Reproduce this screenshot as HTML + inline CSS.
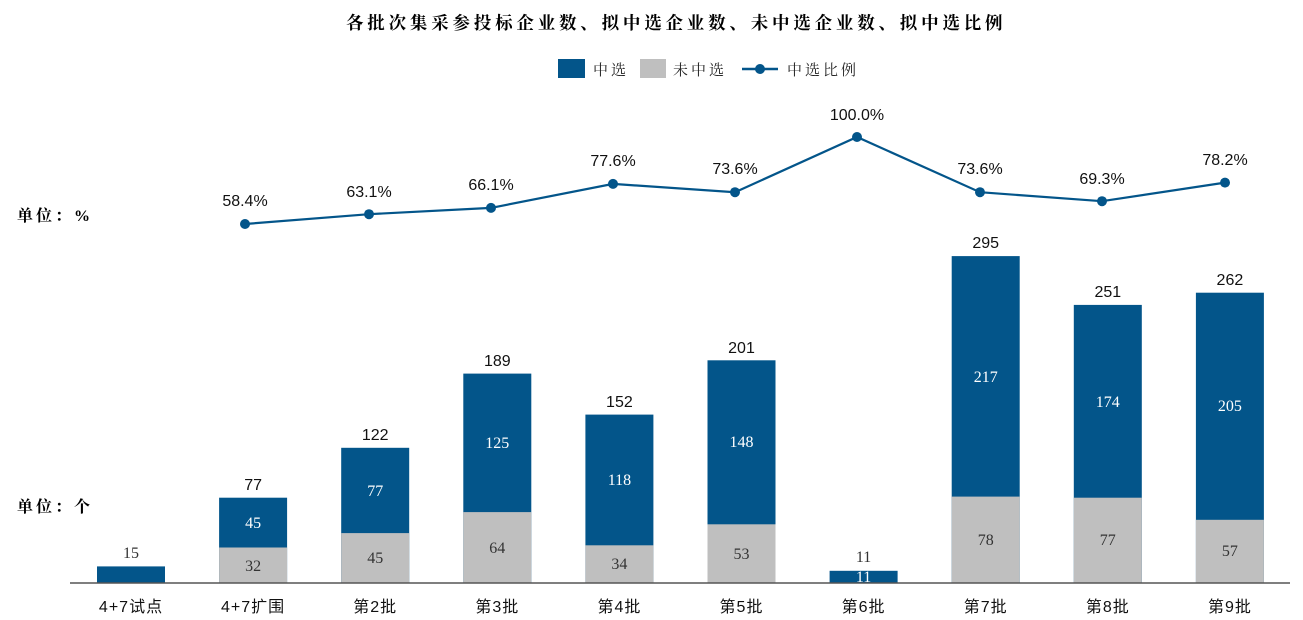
<!DOCTYPE html>
<html><head><meta charset="utf-8"><style>
html,body{margin:0;padding:0;background:#fff;}
svg{display:block;}
.t{font-family:"Liberation Serif","Noto Serif CJK SC",serif;}
.s{font-family:"Liberation Sans","Noto Sans CJK SC",sans-serif;}
</style></head><body>
<svg width="1303" height="620" viewBox="0 0 1303 620" xmlns="http://www.w3.org/2000/svg">
<text x="346" y="29" class="t" font-size="17.5" font-weight="bold" letter-spacing="3.8" fill="#000">各批次集采参投标企业数、拟中选企业数、未中选企业数、拟中选比例</text>
<rect x="558" y="59" width="27" height="19" fill="#03558A"/>
<text x="593" y="75" class="t" font-size="15" letter-spacing="3" fill="#222">中选</text>
<rect x="640" y="59" width="26" height="19" fill="#BFBFBF"/>
<text x="673" y="75" class="t" font-size="15" letter-spacing="3" fill="#222">未中选</text>
<line x1="742" y1="69" x2="778" y2="69" stroke="#03558A" stroke-width="2.5"/>
<circle cx="760" cy="69" r="5" fill="#03558A"/>
<text x="787" y="75" class="t" font-size="15" letter-spacing="3" fill="#222">中选比例</text>
<text x="17" y="221" class="t" font-size="16" font-weight="bold" letter-spacing="3" fill="#000">单位：%</text>
<text x="17" y="512" class="t" font-size="16" font-weight="bold" letter-spacing="3" fill="#000">单位：个</text>
<g fill="#03558A">
<rect x="97" y="566.4" width="68" height="16.6"/>
<rect x="219.1" y="497.7" width="68" height="85.3"/>
<rect x="341.2" y="447.8" width="68" height="135.2"/>
<rect x="463.3" y="373.6" width="68" height="209.4"/>
<rect x="585.4" y="414.6" width="68" height="168.4"/>
<rect x="707.5" y="360.3" width="68" height="222.7"/>
<rect x="829.6" y="570.8" width="68" height="12.2"/>
<rect x="951.7" y="256.1" width="68" height="326.9"/>
<rect x="1073.8" y="304.9" width="68" height="278.1"/>
<rect x="1195.9" y="292.7" width="68" height="290.3"/>
</g>
<g fill="#BFBFBF">
<rect x="219.1" y="547.5" width="68" height="35.5"/>
<rect x="341.2" y="533.1" width="68" height="49.9"/>
<rect x="463.3" y="512.1" width="68" height="70.9"/>
<rect x="585.4" y="545.3" width="68" height="37.7"/>
<rect x="707.5" y="524.3" width="68" height="58.7"/>
<rect x="951.7" y="496.6" width="68" height="86.4"/>
<rect x="1073.8" y="497.7" width="68" height="85.3"/>
<rect x="1195.9" y="519.8" width="68" height="63.2"/>
</g>
<line x1="70" y1="583" x2="1290" y2="583" stroke="#555" stroke-width="1.5"/>
<g class="t" font-size="16" text-anchor="middle" fill="#fff">
<text x="253.1" y="528">45</text>
<text x="375.2" y="496">77</text>
<text x="497.3" y="448">125</text>
<text x="619.4" y="485">118</text>
<text x="741.5" y="447">148</text>
<text x="863.6" y="582">11</text>
<text x="985.7" y="382">217</text>
<text x="1107.8" y="407">174</text>
<text x="1229.9" y="411">205</text>
</g>
<g class="t" font-size="16" text-anchor="middle" fill="#333">
<text x="131" y="558">15</text>
<text x="253.1" y="571">32</text>
<text x="375.2" y="563">45</text>
<text x="497.3" y="553">64</text>
<text x="619.4" y="569">34</text>
<text x="741.5" y="559">53</text>
<text x="863.6" y="562">11</text>
<text x="985.7" y="545">78</text>
<text x="1107.8" y="545">77</text>
<text x="1229.9" y="556">57</text>
</g>
<g class="s" font-size="16" text-anchor="middle" fill="#111">
<text x="253.1" y="490">77</text>
<text x="375.2" y="440">122</text>
<text x="497.3" y="366">189</text>
<text x="619.4" y="407">152</text>
<text x="741.5" y="353">201</text>
<text x="985.7" y="248">295</text>
<text x="1107.8" y="297">251</text>
<text x="1229.9" y="285">262</text>
</g>
<polyline fill="none" stroke="#03558A" stroke-width="2.2" points="245,224 369,214.2 491,207.9 613,183.9 735,192.2 857,137 980,192.2 1102,201.2 1225,182.6"/>
<g fill="#03558A">
<circle cx="245" cy="224" r="5"/><circle cx="369" cy="214.2" r="5"/><circle cx="491" cy="207.9" r="5"/><circle cx="613" cy="183.9" r="5"/><circle cx="735" cy="192.2" r="5"/><circle cx="857" cy="137" r="5"/><circle cx="980" cy="192.2" r="5"/><circle cx="1102" cy="201.2" r="5"/><circle cx="1225" cy="182.6" r="5"/>
</g>
<g class="s" font-size="16" text-anchor="middle" fill="#111">
<text x="245" y="206">58.4%</text>
<text x="369" y="197">63.1%</text>
<text x="491" y="190">66.1%</text>
<text x="613" y="166">77.6%</text>
<text x="735" y="174">73.6%</text>
<text x="857" y="120">100.0%</text>
<text x="980" y="174">73.6%</text>
<text x="1102" y="184">69.3%</text>
<text x="1225" y="165">78.2%</text>
</g>
<g class="s" font-size="16" text-anchor="middle" fill="#111" letter-spacing="1">
<text x="131" y="612">4+7试点</text>
<text x="253.1" y="612">4+7扩围</text>
<text x="375.2" y="612">第2批</text>
<text x="497.3" y="612">第3批</text>
<text x="619.4" y="612">第4批</text>
<text x="741.5" y="612">第5批</text>
<text x="863.6" y="612">第6批</text>
<text x="985.7" y="612">第7批</text>
<text x="1107.8" y="612">第8批</text>
<text x="1229.9" y="612">第9批</text>
</g>
</svg>
</body></html>
